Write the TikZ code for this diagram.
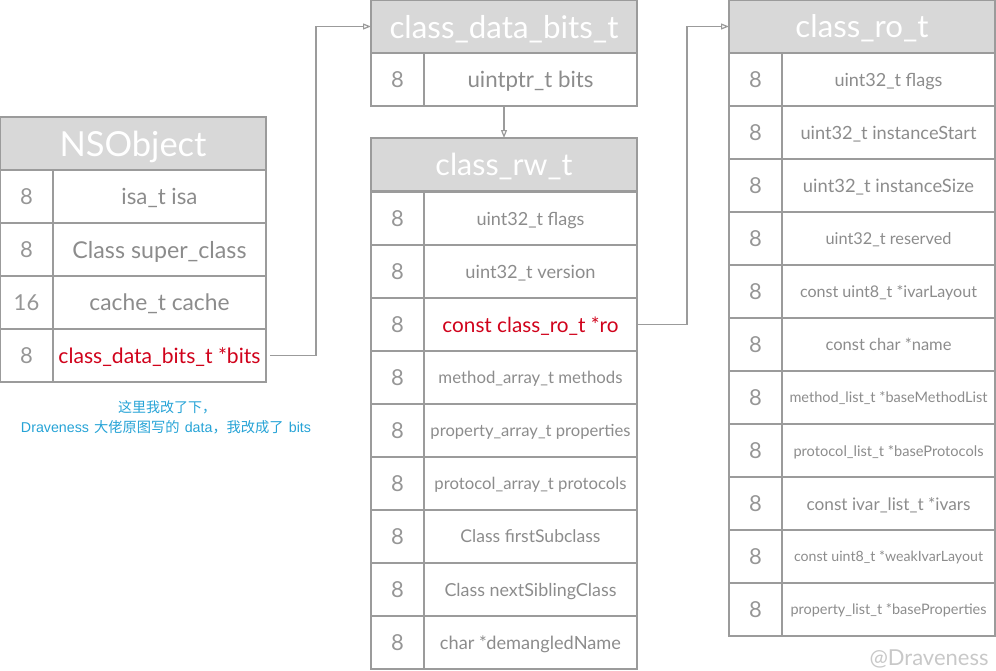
\documentclass[tikz,border=0pt]{standalone}
\usepackage{fontspec}
\usepackage{graphicx}
\setmainfont{Lato}
\newfontfamily\cjk{Noto Sans CJK SC}
\newfontfamily\lat{Liberation Sans}
\usetikzlibrary{arrows.meta}
\definecolor{bc}{RGB}{155,155,155}
\definecolor{hc}{RGB}{216,216,216}
\definecolor{tc}{RGB}{140,140,140}
\definecolor{nc}{RGB}{150,150,150}
\definecolor{rc}{RGB}{208,2,27}
\definecolor{bl}{RGB}{38,163,214}
\definecolor{wm}{RGB}{200,200,200}
\newcommand{\fitw}[2]{\raisebox{0pt}[\height][0pt]{\resizebox{#1pt}{!}{#2}}}
\newcommand{\trow}[6]{%
  \node[numc] (#1n) at (#2,#3) {#4};
  \node[valc] (#1v) at ({#2+53},#3) {\fitw{#5}{#6}};
}
\tikzset{
  cellbase/.style={draw=bc, line width=1.2pt, inner sep=0pt, outer sep=0pt, anchor=north west, minimum height=53pt},
  hdr/.style={cellbase, fill=hc, minimum width=266pt, text=white},
  numc/.style={cellbase, minimum width=53pt, text=nc, font=\fontsize{22}{22}\selectfont},
  valc/.style={cellbase, minimum width=213pt, text=tc},
  conn/.style={draw=bc, line width=1.2pt, -{Triangle[open, length=8pt, width=6pt]}},
  note/.style={text=bl, font=\cjk\fontsize{14}{14}\selectfont, inner sep=0pt}
}
\begin{document}
\begin{tikzpicture}[x=1pt, y=-1pt]
\useasboundingbox (0,0) rectangle (996,670);
% NSObject
\node[hdr] (ns) at (0,117) {\fitw{147}{NSObject}};
\trow{nsa}{0}{170}{8}{76}{isa\_t isa}
\trow{nsb}{0}{223}{8}{174}{Class super\_class}
\trow{nsc}{0}{276}{16}{140}{cache\_t cache}
\trow{nsd}{0}{329}{8}{202}{\color{rc}class\_data\_bits\_t *bits}
% class_data_bits_t
\node[hdr] (cdb) at (371,0) {\fitw{229}{class\_data\_bits\_t}};
\trow{cdba}{371}{53}{8}{126}{uintptr\_t bits}
% class_rw_t
\node[hdr] (rw) at (371,138) {\fitw{137}{class\_rw\_t}};
\trow{rwa}{371}{192}{8}{108}{uint32\_t flags}
\trow{rwb}{371}{245}{8}{130}{uint32\_t version}
\trow{rwc}{371}{298}{8}{176}{\color{rc}const class\_ro\_t *ro}
\trow{rwd}{371}{351}{8}{184}{method\_array\_t methods}
\trow{rwe}{371}{404}{8}{200}{property\_array\_t properties}
\trow{rwf}{371}{457}{8}{192}{protocol\_array\_t protocols}
\trow{rwg}{371}{510}{8}{140}{Class firstSubclass}
\trow{rwh}{371}{563}{8}{172}{Class nextSiblingClass}
\trow{rwi}{371}{616}{8}{181}{char *demangledName}
% class_ro_t
\node[hdr] (ro) at (729,0) {\fitw{133}{class\_ro\_t}};
\trow{roa}{729}{53}{8}{108}{uint32\_t flags}
\trow{rob}{729}{106}{8}{176}{uint32\_t instanceStart}
\trow{roc}{729}{159}{8}{171}{uint32\_t instanceSize}
\trow{rod}{729}{212}{8}{126}{uint32\_t reserved}
\trow{roe}{729}{265}{8}{177}{const uint8\_t *ivarLayout}
\trow{rof}{729}{318}{8}{126}{const char *name}
\trow{rog}{729}{371}{8}{198}{method\_list\_t *baseMethodList}
\trow{roh}{729}{424}{8}{190}{protocol\_list\_t *baseProtocols}
\trow{roi}{729}{477}{8}{164}{const ivar\_list\_t *ivars}
\trow{roj}{729}{530}{8}{189}{const uint8\_t *weakIvarLayout}
\trow{rok}{729}{583}{8}{196}{property\_list\_t *baseProperties}
% connectors
\draw[conn] ([xshift=4pt]nsdv.east) -- ++(46,0) |- (cdb.west);
\draw[conn] (cdbav.south -| rw.north) -- (rw.north);
\draw[conn] (rwcv.east) -- ++(50,0) |- (ro.west);
% notes
\node[note] (n1) at (167,407) {这里我改了下，};
\node[note] (n2) at (166,427) {\resizebox{290pt}{!}{{\lat Draveness}\hspace{5pt}大佬原图写的\hspace{5pt}{\lat data}，我改成了\hspace{5pt}{\lat bits}}};
\node[text=wm, inner sep=0pt] (wmk) at (929,658) {\fitw{119}{@Draveness}};
\end{tikzpicture}
\end{document}
